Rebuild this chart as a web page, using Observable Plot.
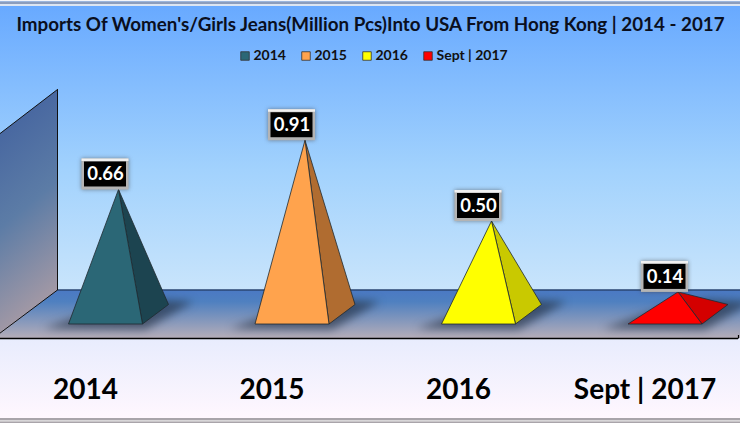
<!DOCTYPE html>
<html><head><meta charset="utf-8">
<script src="https://cdn.jsdelivr.net/npm/d3@7"></script>
<script src="https://cdn.jsdelivr.net/npm/@observablehq/plot@0.6"></script>
<style>html,body{margin:0;padding:0;background:#fff}svg{display:block}</style>
</head><body><div id="chart"></div>
<script>
const titleText = "Imports Of Women's/Girls Jeans(Million Pcs)Into USA From Hong Kong | 2014 - 2017";
const categories = ["2014", "2015", "2016", "Sept | 2017"];
const values = [0.66, 0.91, 0.50, 0.14];
const frontColors = ["#2b6776", "#ffa34d", "#ffff00", "#ff0000"];
const sideColors = ["#1c4450", "#b06c30", "#c9c900", "#d40000"];

// pixels per unit of each scale
const kx = 186.5, ky = 197;
const X = p => p / kx, Y = p => p / ky, py = p => (319 - p) / ky, px = p => (p - 85) / kx;

// pyramid footprint, relative to a category's position
const baseFront = py(323.5), baseBack = py(304);
const oLeft = X(-17), oRight = X(57), oBack = X(83), oApex = X(33);

const faces = [], sides = [], shadows = [];
values.forEach((v, i) => {
  const a = [i + oApex, v];
  const fl = [i + oLeft, baseFront], fr = [i + oRight, baseFront], br = [i + oBack, baseBack];
  [a, fl, fr, a].forEach(p => faces.push({x: p[0], y: p[1], k: i, c: frontColors[i]}));
  [a, fr, br, a].forEach(p => sides.push({x: p[0], y: p[1], k: i, c: sideColors[i]}));
  [[-42, 328], [60, 329], [108, 301], [62, 299], [10, 310], [-42, 328]].forEach(p =>
    shadows.push({x: i + X(p[0]), y: py(p[1]), k: i}));
});
const poly = pts => pts.map(([a, b]) => ({x: px(a), y: py(b)}));
const wall = poly([[57, 89], [57, 289.5], [-3, 334.5], [-3, 135], [57, 89]]);
const hw = X(23.5), hh = Y(15.5), lx = X(-13), ly = Y(15);
const boxes = values.map((v, i) => ({v, cx: i + oApex + lx, cy: v + ly}));

const grad = (id, stops, x2 = 0, y2 = 1) => () => {
  const d = d3.create("svg:defs");
  const g = d.append("linearGradient").attr("id", id).attr("x1", 0).attr("y1", 0).attr("x2", x2).attr("y2", y2);
  stops.forEach(([o, c]) => g.append("stop").attr("offset", o).attr("stop-color", c));
  return d.node();
};
const band = (a, b, fill) => Plot.rect([0], {y1: () => py(a), y2: () => py(b), fill});

const font = "Lato";
const legend = categories.flatMap((c, i) => [
  Plot.dot([c], {frameAnchor: "top-left", dx: 244.5 + 61 * i, dy: 55.5, symbol: "square", r: 4.8,
    fill: frontColors[i], stroke: "#333", strokeWidth: 0.8}),
  Plot.text([c], {text: d => d, frameAnchor: "top-left", dx: 253 + 61 * i, dy: 55, textAnchor: "start",
    lineAnchor: "middle", fontFamily: font, fontWeight: 700, fontSize: 14, fill: "#111"})
]);

const chart = Plot.plot({
  width: 740, height: 423, margin: 0,
  x: {domain: [0, 3], range: [85, 644.5], axis: null},
  y: {domain: [0, 1], range: [319, 122], axis: null},
  color: {type: "identity"},
  marks: [
    grad("sky", [[0, "#66a8ff"], [0.5, "#a2d2fd"], [1, "#d9ecfb"]]),
    grad("floor", [[0, "#4a79c4"], [0.25, "#4f80c0"], [1, "#b5adb8"]]),
    grad("lower", [[0, "#e8ecfd"], [1, "#fff7fe"]]),
    grad("wallG", [[0, "#3f5e9e"], [0.55, "#5c7ca6"], [1, "#a69aa5"]], 0.2, 1),
    band(0, 340, "url(#sky)"),
    band(289.5, 338, "url(#floor)"),
    band(338, 418, "url(#lower)"),
    band(0, 1.5, "#f4f6fa"),
    band(1.5, 4, "#8b9dbd"),
    band(4, 6, "#dce5f1"),
    band(418, 420, "#a9a4aa"),
    band(420, 421.5, "#d8d6d8"),
    band(421.5, 423, "#a9a4aa"),
    Plot.ruleY([py(289.5)], {x1: () => px(57), x2: () => px(740), stroke: "#1b2c4a", strokeWidth: 1.2}),
    Plot.ruleY([py(338)], {x1: () => px(0), x2: () => px(738), stroke: "#000", strokeWidth: 1.6}),
    Plot.ruleX([px(738)], {y1: () => py(338.5), y2: () => py(335), stroke: "#000", strokeWidth: 1.2}),
    Plot.line(wall, {x: "x", y: "y", fill: "url(#wallG)", stroke: "#111", strokeWidth: 1}),
    Plot.line(shadows, {x: "x", y: "y", z: "k", fill: "#1e2a3c", fillOpacity: 0.62, stroke: "none", imageFilter: "blur(4px)"}),
    Plot.line(sides, {x: "x", y: "y", z: "k", fill: "c", stroke: "#1f2a30", strokeWidth: 0.8}),
    Plot.line(faces, {x: "x", y: "y", z: "k", fill: "c", stroke: "#1f2a30", strokeWidth: 0.8}),
    Plot.rect(boxes, {x1: d => d.cx - hw, x2: d => d.cx + hw, y1: d => d.cy - hh, y2: d => d.cy + hh,
      fill: "#444", imageFilter: "blur(2px)", fillOpacity: 0.6}),
    Plot.rect(boxes, {x1: d => d.cx - hw, x2: d => d.cx + hw, y1: d => d.cy - hh, y2: d => d.cy + hh, fill: "#b4b4b4"}),
    Plot.rect(boxes, {x1: d => d.cx - hw, x2: d => d.cx + hw, y1: d => d.cy + hh - Y(2.5), y2: d => d.cy + hh, fill: "#f0f0f0"}),
    Plot.rect(boxes, {x1: d => d.cx - hw + X(2.5), x2: d => d.cx + hw - X(2.5), y1: d => d.cy - hh + Y(3), y2: d => d.cy + hh - Y(3), fill: "#000"}),
    Plot.text(boxes, {x: "cx", y: "cy", text: d => d.v.toFixed(2), fill: "#fff", fontFamily: font, fontWeight: 700, fontSize: 18.5, lineAnchor: "middle"}),
    Plot.text([titleText], {text: d => d, frameAnchor: "top", dy: 24, lineAnchor: "middle", fontFamily: font, fontWeight: 700, fontSize: 18.8, fill: "#0a0f1e"}),
    ...legend,
    Plot.text(categories, {x: (d, i) => i, y: () => py(390), text: d => d, fontFamily: font, fontWeight: 700, fontSize: 28, fill: "#000", lineAnchor: "middle"})
  ]
});
document.getElementById("chart").append(chart);
</script></body></html>
